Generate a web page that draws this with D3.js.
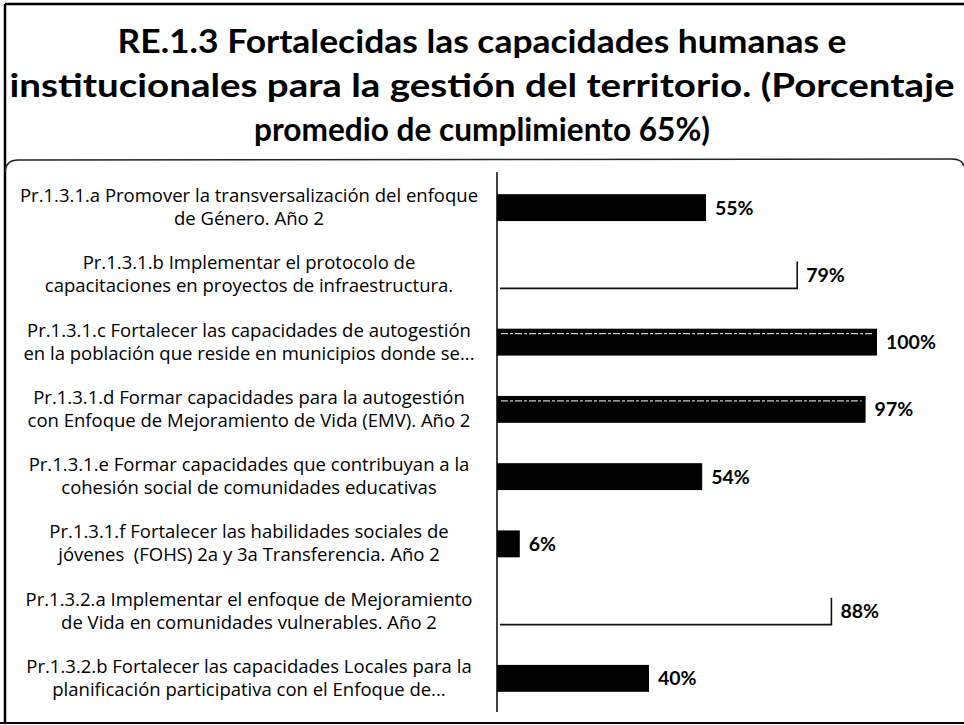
<!DOCTYPE html>
<html>
<head>
<meta charset="utf-8">
<script src="https://cdn.jsdelivr.net/npm/d3@7"></script>
<style>
  body { margin: 0; background: #fff; }
  text { font-family: Lato, "Open Sans", sans-serif; fill: #000; }
  .cat { font-family: "Open Sans", Lato, sans-serif; white-space: pre; }
</style>
</head>
<body>
<div class="chart"></div>
<script>
// title, wrapped the same way as the original slide
var titleLines = [
  'RE.1.3 Fortalecidas las capacidades humanas e',
  'institucionales para la gestión del territorio. (Porcentaje',
  'promedio de cumplimiento 65%)'
]

// category labels (two lines each)
var categories = [
  ['Pr.1.3.1.a Promover la transversalización del enfoque', 'de Género. Año 2'],
  ['Pr.1.3.1.b Implementar el protocolo de', 'capacitaciones en proyectos de infraestructura.'],
  ['Pr.1.3.1.c Fortalecer las capacidades de autogestión', 'en la población que reside en municipios donde se...'],
  ['Pr.1.3.1.d Formar capacidades para la autogestión', 'con Enfoque de Mejoramiento de Vida (EMV). Año 2'],
  ['Pr.1.3.1.e Formar capacidades que contribuyan a la', 'cohesión social de comunidades educativas'],
  ['Pr.1.3.1.f Fortalecer las habilidades sociales de', 'jóvenes  (FOHS) 2a y 3a Transferencia. Año 2'],
  ['Pr.1.3.2.a Implementar el enfoque de Mejoramiento', 'de Vida en comunidades vulnerables. Año 2'],
  ['Pr.1.3.2.b Fortalecer las capacidades Locales para la', 'planificación participativa con el Enfoque de...']
]

// percentage of compliance
var values = [0.55, 0.79, 1.00, 0.97, 0.54, 0.06, 0.88, 0.40]

// look of each bar (the scan shows two of them as light bars)
var barFill = ['#000', '#fff', '#000', '#000', '#000', '#000', '#fff', '#000']
var streaked = [false, false, true, true, false, false, false, false]

var width = 964
var height = 725
var axisX = 497
var fullX = 877
var labelCenter = 249

var svg = d3.select('.chart').append('svg')
  .attr('width', width)
  .attr('height', height)

// frame of the slide
svg.append('line')
  .attr('x1', 5).attr('y1', 4).attr('x2', width).attr('y2', 4)
  .attr('stroke', '#000').attr('stroke-width', 2.5)
svg.append('line')
  .attr('x1', 5).attr('y1', 4).attr('x2', 5).attr('y2', 723)
  .attr('stroke', '#000').attr('stroke-width', 2.5)
svg.append('line')
  .attr('x1', 0).attr('y1', 723).attr('x2', width).attr('y2', 723)
  .attr('stroke', '#000').attr('stroke-width', 2)
// rounded top of the chart box
svg.append('path')
  .attr('d', 'M5,172 Q6,160 18,160 L952,159 Q962,159 964,166')
  .attr('fill', 'none').attr('stroke', '#222').attr('stroke-width', 1.6)

// title
var titleWidths = [729, 945, 456]
svg.append('g').selectAll('text')
  .data(titleLines)
  .enter().append('text')
  .attr('x', 482)
  .attr('y', (d, i) => 53 + i * 44)
  .attr('text-anchor', 'middle')
  .attr('font-size', 33)
  .attr('font-weight', 'bold')
  .attr('textLength', (d, i) => titleWidths[i])
  .attr('lengthAdjust', 'spacingAndGlyphs')
  .text(d => d)

// scales
var y = d3.scaleBand()
  .domain(d3.range(categories.length))
  .range([174, 712])
  .paddingInner(0.6)
  .paddingOuter(0.3)

var x = d3.scaleLinear()
  .domain([0, 1])
  .range([axisX, fullX])

var rows = values.map((v, i) => ({ v: v, i: i }))

// bars
var bars = svg.append('g').selectAll('g')
  .data(rows)
  .enter().append('g')

bars.append('rect')
  .attr('x', x(0))
  .attr('y', d => y(d.i))
  .attr('width', d => x(d.v) - x(0))
  .attr('height', y.bandwidth())
  .attr('fill', d => barFill[d.i])

// light bars only show their bottom edge and end
bars.filter(d => barFill[d.i] === '#fff')
  .append('path')
  .attr('d', d => {
    var top = y(d.i), bottom = y(d.i) + y.bandwidth()
    return 'M' + (x(0) + 3) + ',' + bottom
      + 'L' + x(d.v) + ',' + bottom
      + 'M' + x(d.v) + ',' + (bottom + 1)
      + 'L' + x(d.v) + ',' + top
  })
  .attr('fill', 'none')
  .attr('stroke', '#111')
  .attr('stroke-width', 1.6)

// scan streak on top of the long bars
bars.filter(d => streaked[d.i])
  .append('line')
  .attr('x1', x(0) + 4)
  .attr('x2', d => x(d.v) - 4)
  .attr('y1', d => y(d.i) + 5)
  .attr('y2', d => y(d.i) + 5)
  .attr('stroke', '#ccc')
  .attr('stroke-width', 1.2)
  .attr('stroke-dasharray', '7,2,3,2')

// value labels
bars.append('text')
  .attr('x', d => x(d.v) + 9)
  .attr('y', d => y(d.i) + y.bandwidth() / 2 + 7)
  .attr('font-size', 19.5)
  .attr('font-weight', 'bold')
  .text(d => d3.format('.0%')(d.v))

// category axis
svg.append('line')
  .attr('x1', axisX).attr('x2', axisX)
  .attr('y1', 172).attr('y2', 712)
  .attr('stroke', '#000').attr('stroke-width', 1.5)

// category labels
var labels = svg.append('g').selectAll('text')
  .data(categories)
  .enter().append('text')
  .attr('class', 'cat')
  .attr('text-anchor', 'middle')
  .attr('font-size', 18.5)

labels.selectAll('tspan')
  .data((d, i) => d.map((t, j) => ({ t: t, i: i, j: j })))
  .enter().append('tspan')
  .attr('x', labelCenter)
  .attr('y', d => y(d.i) + y.bandwidth() / 2 - 11.5 + d.j * 23 + 6)
  .text(d => d.t)
</script>
</body>
</html>
